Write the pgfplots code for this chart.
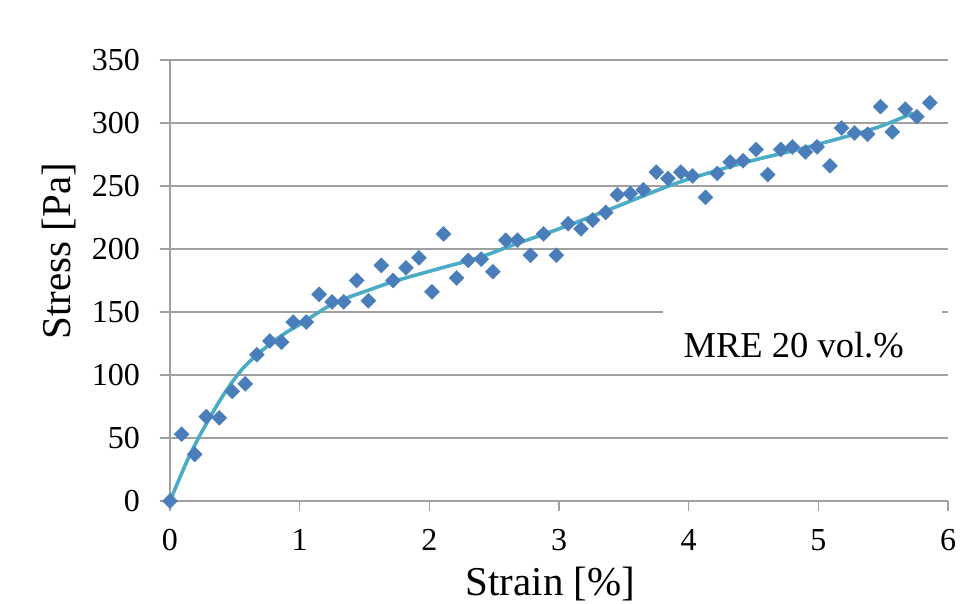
\documentclass[border=0pt]{standalone}
\usepackage{pgfplots}
\pgfplotsset{compat=1.18}
\usepackage{fontspec}
\setmainfont{Liberation Serif}
\definecolor{markblue}{HTML}{4A7EBB}
\definecolor{trendteal}{HTML}{4BACC6}
\definecolor{gridgray}{HTML}{A0A0A0}
\begin{document}
\begin{tikzpicture}
\useasboundingbox (-170pt,-103pt) rectangle (791pt,501pt);
\begin{axis}[
  at={(0pt,0pt)}, anchor=south west,
  scale only axis, width=778pt, height=441pt,
  xmin=0, xmax=6, ymin=0, ymax=350,
  xtick={0,1,2,3,4,5,6}, ytick={0,50,100,150,200,250,300,350},
  axis x line*=bottom, axis y line*=left,
  axis line style={gridgray, line width=1.3pt},
  tick style={gridgray, line width=1.3pt},
  tick align=outside, major tick length=10pt,
  ymajorgrids, grid style={gridgray, line width=1.3pt},
  /pgf/number format/assume math mode=true,
  ticklabel style={font=\fontsize{32}{38}\selectfont},
  yticklabel style={anchor=east, inner sep=0pt, xshift=-20pt},
  xticklabel style={anchor=north, inner sep=0pt, yshift=-18pt},
  xlabel={Strain [\%]}, ylabel={Stress [Pa]},
  label style={font=\fontsize{41}{48}\selectfont},
  xlabel style={at={(axis description cs:0.489,0)}, anchor=north, yshift=-63pt},
  ylabel style={at={(axis description cs:0,0.567)}, anchor=south, rotate=0, xshift=0pt, yshift=90pt},
  clip=false,
]
\fill[white] (axis cs:3.8,100.9) rectangle (axis cs:5.95,150.6);
\node[anchor=center, font=\fontsize{36.5}{44}\selectfont] at (axis cs:4.81,123.5) {MRE 20 vol.\%};
\addplot[trendteal, line width=3.6pt, smooth, tension=0.5] coordinates {
(0,0) (0.09,22) (0.16,38) (0.23,52) (0.30,65) (0.38,79) (0.47,93) (0.56,105) (0.67,116) (0.79,126) (0.9,134) (1.0,140) (1.12,148) (1.23,155) (1.36,161) (1.55,168) (1.75,175) (2.13,186) (2.38,193) (2.64,203) (3.0,216) (3.38,231) (3.9,252) (4.41,268) (4.92,281) (5.44,296) (5.73,308)
};
\addplot[only marks, mark=square*, mark size=5.3pt, mark options={rotate=45, fill=markblue, draw=markblue}] coordinates {
(0,0) (0.09,53) (0.19,37) (0.28,67) (0.38,66) (0.48,87) (0.58,93) (0.67,116) (0.77,127) (0.86,126)
(0.95,142) (1.05,142) (1.15,164) (1.25,158) (1.34,158) (1.44,175) (1.53,159) (1.63,187) (1.72,175) (1.82,185)
(1.92,193) (2.02,166) (2.11,212) (2.21,177) (2.30,191) (2.40,192) (2.49,182) (2.59,207) (2.68,207) (2.78,195)
(2.88,212) (2.98,195) (3.07,220) (3.17,216) (3.26,223) (3.36,229) (3.45,243) (3.55,244) (3.65,247) (3.75,261)
(3.84,256) (3.94,261) (4.03,258) (4.13,241) (4.22,260) (4.32,269) (4.42,270) (4.52,279) (4.61,259) (4.71,279)
(4.80,281) (4.90,277) (4.99,281) (5.09,266) (5.18,296) (5.28,292) (5.38,291) (5.48,313) (5.57,293) (5.67,311)
(5.76,305) (5.86,316)
};
\end{axis}
\end{tikzpicture}
\end{document}
